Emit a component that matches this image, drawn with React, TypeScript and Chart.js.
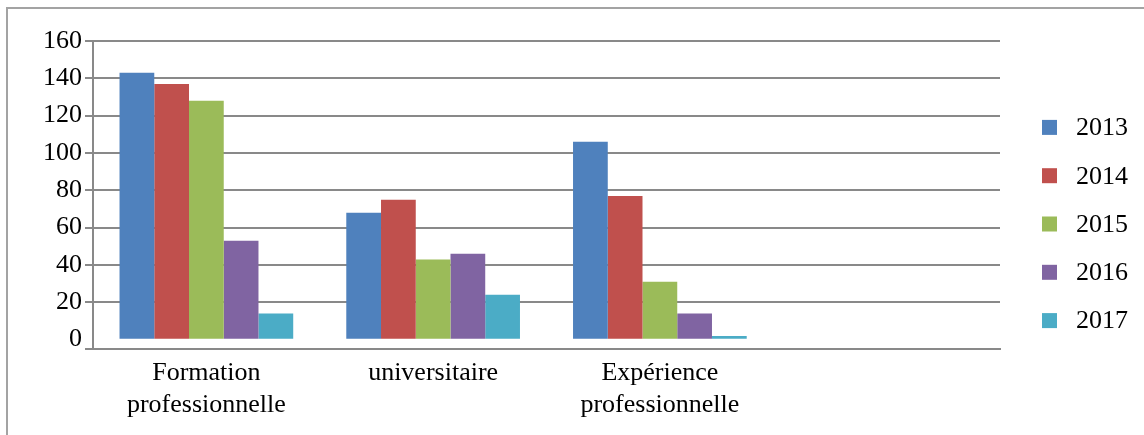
import React, { useEffect, useRef } from "react";
import { Chart, registerables } from "chart.js";

Chart.register(...registerables);

const categories: (string | string[])[] = [
  ["Formation", "professionnelle"],
  "universitaire",
  ["Expérience", "professionnelle"],
  "",
];
const seriesNames = ["2013", "2014", "2015", "2016", "2017"];
const v2013 = [143, 68, 106, null];
const v2014 = [137, 75, 77, null];
const v2015 = [128, 43, 31, null];
const v2016 = [53, 46, 14, null];
const v2017 = [14, 24, 2, null];
const seriesColors = ["#4F81BD", "#C0504D", "#9BBB59", "#8064A2", "#4BACC6"];
const yTickValues = [0, 20, 40, 60, 80, 100, 120, 140, 160];
const yAxisMin = -5;
const yAxisMax = 160;

const FONT = "'Liberation Serif', 'Times New Roman', serif";
const GRID = "#898989";

const sideLegend = {
  id: "sideLegend",
  afterDraw(chart: any) {
    const o = chart.options.plugins.sideLegend;
    const { ctx, chartArea } = chart;
    const n = chart.data.datasets.length;
    const x0 = chartArea.right + o.offsetX;
    const y0 = chart.height / 2 + o.offsetY - ((n - 1) * o.rowHeight) / 2;
    ctx.save();
    ctx.font = `${o.fontSize}px ${FONT}`;
    ctx.textBaseline = "middle";
    ctx.textAlign = "left";
    chart.data.datasets.forEach((ds: any, i: number) => {
      const cy = y0 + i * o.rowHeight;
      ctx.fillStyle = ds.backgroundColor;
      ctx.fillRect(x0, cy - o.box / 2, o.box, o.box);
      ctx.fillStyle = "#000";
      ctx.fillText(ds.label, x0 + o.box + o.gap, cy + 1);
    });
    ctx.restore();
  },
};

export default function App() {
  const ref = useRef<HTMLCanvasElement | null>(null);
  useEffect(() => {
    if (!ref.current) return;
    const values = [v2013, v2014, v2015, v2016, v2017];
    const chart = new Chart(ref.current, {
      type: "bar",
      data: {
        labels: categories,
        datasets: values.map((v, i) => ({
          label: seriesNames[i],
          data: v,
          backgroundColor: seriesColors[i],
          borderWidth: 0,
          categoryPercentage: 0.766,
          barPercentage: 1,
        })),
      },
      options: {
        animation: false,
        responsive: true,
        maintainAspectRatio: false,
        layout: { padding: { top: 41, right: 144, bottom: 0, left: 0 } },
        plugins: {
          legend: { display: false },
          tooltip: { enabled: false },
          sideLegend: { offsetX: 42, offsetY: 6.5, rowHeight: 48.3, box: 15, gap: 19, fontSize: 26 },
        } as any,
        scales: {
          x: {
            grid: { display: false, drawTicks: false },
            border: { display: true, color: GRID, width: 2 },
            ticks: {
              font: { family: FONT, size: 26 },
              color: "#000",
              padding: 9,
              maxRotation: 0,
              autoSkip: false,
            },
            afterFit: (scale: any) => {
              scale.height = 86;
            },
          },
          y: {
            min: yAxisMin,
            max: yAxisMax,
            afterBuildTicks: (scale: any) => {
              scale.ticks = [yAxisMin, ...yTickValues].map((v) => ({ value: v }));
            },
            grid: {
              color: (c: any) => (c.tick && c.tick.value === 0 ? "rgba(0,0,0,0)" : GRID),
              lineWidth: 2,
              tickLength: 8,
              drawTicks: true,
            },
            border: { display: true, color: GRID, width: 2 },
            ticks: {
              font: { family: FONT, size: 26 },
              color: "#000",
              padding: 3,
              callback: (v: any) => (v === yAxisMin ? "" : String(v)),
            },
            afterFit: (scale: any) => {
              scale.width = 93;
            },
          },
        },
      },
      plugins: [sideLegend],
    });
    return () => chart.destroy();
  }, []);

  return (
    <div
      style={{
        position: "fixed",
        left: 0,
        top: 0,
        width: 1144,
        height: 435,
        overflow: "hidden",
        background: "#fff",
      }}
    >
      <div
        style={{
          position: "absolute",
          left: 6,
          top: 7,
          width: 1300,
          height: 600,
          borderTop: "2px solid #a3a3a3",
          borderLeft: "2px solid #a3a3a3",
        }}
      />
      <div style={{ position: "absolute", left: 0, top: 0, width: 1144, height: 435 }}>
        <canvas ref={ref} />
      </div>
    </div>
  );
}
